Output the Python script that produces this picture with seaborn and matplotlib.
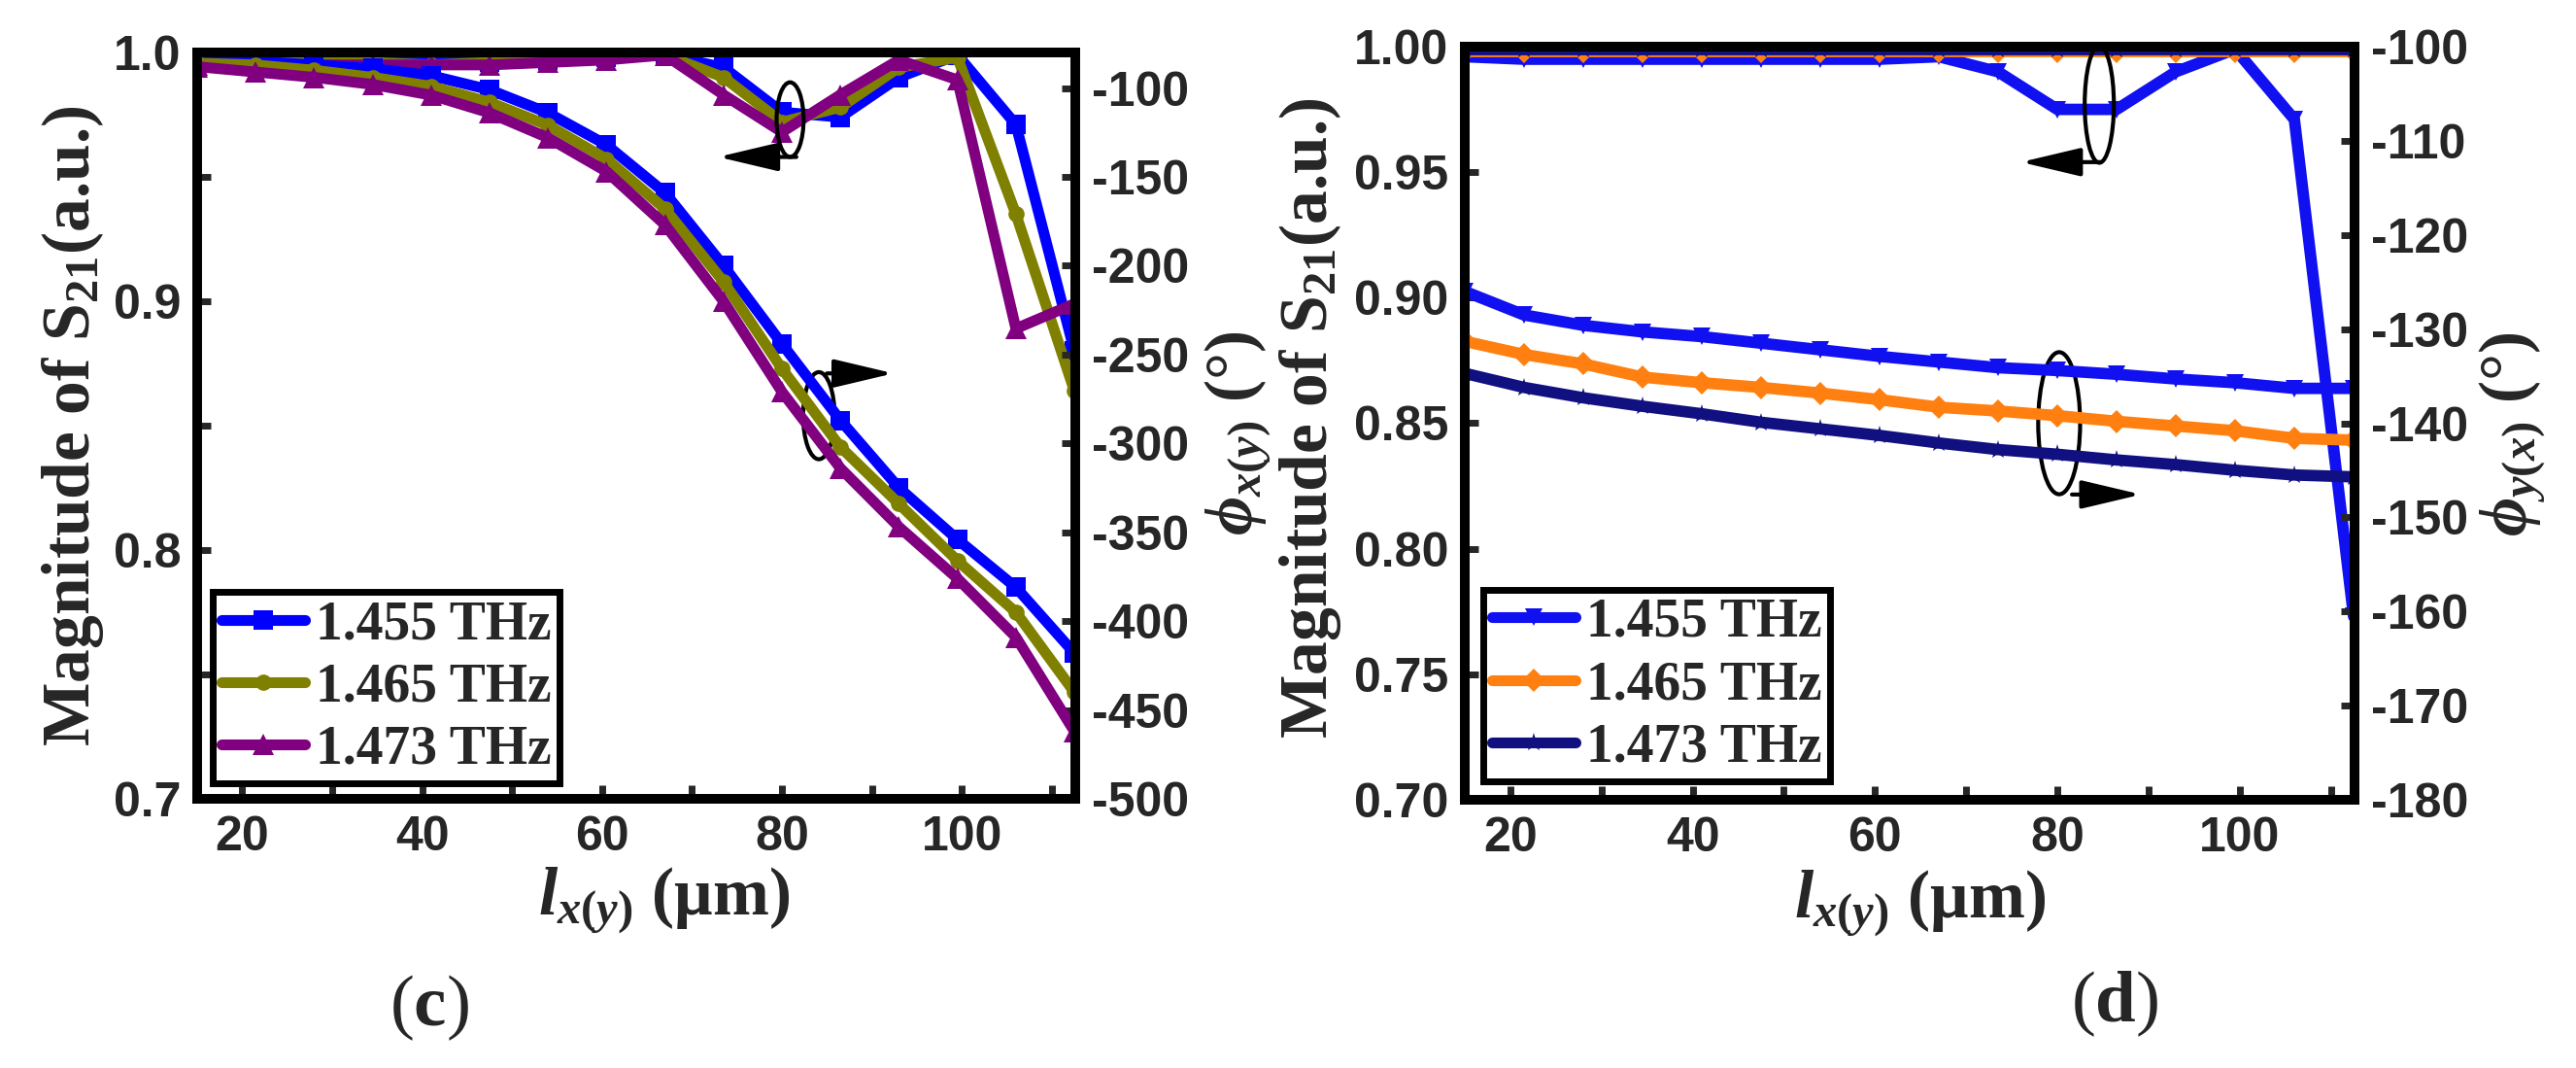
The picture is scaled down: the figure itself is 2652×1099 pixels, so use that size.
import matplotlib
matplotlib.use("Agg")
import matplotlib.pyplot as plt
import seaborn as sns
import pandas as pd
from matplotlib.patches import Ellipse
from matplotlib.lines import Line2D
from matplotlib.ticker import MultipleLocator

# -----------------------------
# DATA
# -----------------------------
l_um = [15, 21.5, 28, 34.5, 41, 47.5, 54, 60.5, 67, 73.5, 80, 86.5, 93, 99.5, 106, 112.5]
freqs = ["1.455 THz", "1.465 THz", "1.473 THz"]

# panel (c): magnitude (left axis) and phase phi_x(y) (right axis)
mag_c_1455 = [0.997, 0.997, 0.996, 0.996, 0.996, 0.996, 0.997, 0.998, 0.999, 0.994, 0.976, 0.974, 0.990, 0.999, 0.971, 0.880]
mag_c_1465 = [0.998, 0.996, 0.997, 0.996, 0.995, 0.996, 0.997, 0.998, 0.999, 0.990, 0.972, 0.978, 0.994, 0.998, 0.935, 0.864]
mag_c_1473 = [0.995, 0.995, 0.995, 0.995, 0.995, 0.995, 0.996, 0.997, 0.999, 0.983, 0.968, 0.983, 0.997, 0.989, 0.889, 0.899]
phase_c_1455 = [-84, -85, -87, -89, -93, -101, -114, -132, -159, -200, -244, -287, -325, -354, -381, -418]
phase_c_1465 = [-86, -87, -90, -94, -99, -108, -121, -140, -168, -209, -258, -302, -334, -366, -395, -440]
phase_c_1473 = [-88, -91, -94, -98, -104, -114, -128, -147, -177, -220, -271, -314, -347, -376, -409, -462]

# panel (d): magnitude (left axis) and phase phi_y(x) (right axis)
mag_d_1455 = [0.996, 0.995, 0.995, 0.995, 0.995, 0.995, 0.995, 0.995, 0.996, 0.990, 0.975, 0.975, 0.990, 0.999, 0.971, 0.773]
mag_d_1465 = [0.998, 0.998, 0.998, 0.998, 0.998, 0.998, 0.998, 0.998, 0.998, 0.998, 0.998, 0.998, 0.998, 0.998, 0.998, 0.998]
mag_d_1473 = [0.999, 0.999, 0.999, 0.999, 0.999, 0.999, 0.999, 0.999, 0.999, 0.999, 0.999, 0.999, 0.999, 0.999, 0.999, 0.999]
phase_d_1455 = [-126.0, -128.5, -129.6, -130.3, -130.8, -131.5, -132.2, -132.9, -133.5, -134.1, -134.4, -134.8, -135.3, -135.7, -136.3, -136.3]
phase_d_1465 = [-131.3, -132.7, -133.7, -135.1, -135.7, -136.2, -136.8, -137.5, -138.3, -138.7, -139.2, -139.8, -140.3, -140.8, -141.6, -141.8]
phase_d_1473 = [-134.7, -136.2, -137.3, -138.2, -139.0, -139.9, -140.6, -141.3, -142.1, -142.8, -143.3, -143.9, -144.4, -145.0, -145.5, -145.7]

# -----------------------------
# STYLE
# -----------------------------
sns.set_style("ticks")
plt.rcParams["font.family"] = ["Liberation Sans", "DejaVu Sans"]
plt.rcParams["font.weight"] = "bold"
plt.rcParams["axes.unicode_minus"] = False
plt.rcParams["mathtext.fontset"] = "custom"
plt.rcParams["mathtext.rm"] = "Liberation Serif"
plt.rcParams["mathtext.it"] = "Liberation Serif:italic:bold"
plt.rcParams["mathtext.bf"] = "Liberation Serif:bold"

SERIF = ["Liberation Serif", "DejaVu Serif"]
TICK_FS = 36
LABEL_FS = 50
SPINE_LW = 7

style_c = {
    "1.455 THz": dict(color="#0000FF", marker="s", ms=15),
    "1.465 THz": dict(color="#808000", marker="o", ms=12),
    "1.473 THz": dict(color="#800080", marker="^", ms=16),
}
style_d = {
    "1.455 THz": dict(color="#1010F0", marker="v", ms=13),
    "1.465 THz": dict(color="#FF8010", marker="D", ms=12),
    "1.473 THz": dict(color="#101080", marker="*", ms=14),
}


def long_df(series):
    rows = []
    for f, vals in zip(freqs, series):
        for x, v in zip(l_um, vals):
            rows.append((f, x, v))
    return pd.DataFrame(rows, columns=["freq", "l", "val"])


def draw_lines(ax, df, styles, lw):
    for f in freqs:
        st = styles[f]
        sub = df[df["freq"] == f]
        sns.lineplot(data=sub, x="l", y="val", ax=ax, color=st["color"],
                     marker=st["marker"], markersize=st["ms"], markeredgewidth=0,
                     linewidth=lw, legend=False)


def style_axes(ax, ax2):
    for a in (ax, ax2):
        for s in a.spines.values():
            s.set_linewidth(SPINE_LW)
            s.set_color("black")
    ax.tick_params(which="both", direction="in", width=5, length=10,
                   labelsize=TICK_FS, pad=12, top=False, right=False)
    ax2.tick_params(which="both", direction="in", width=5, length=10,
                    labelsize=TICK_FS, pad=12)
    ax.xaxis.set_major_locator(MultipleLocator(20))
    ax.xaxis.set_minor_locator(MultipleLocator(10))
    ax.set_xlim(15, 112.6)
    ax.set_xlabel(r"$l_{x(y)}$ (μm)", fontsize=LABEL_FS, family=SERIF, weight="bold")
    ax.set_ylabel(r"Magnitude of S$_{21}$(a.u.)", fontsize=LABEL_FS, family=SERIF, weight="bold")


def legend(ax, styles, anchor):
    handles = [Line2D([], [], color=styles[f]["color"], marker=styles[f]["marker"],
                      ms=styles[f]["ms"], mew=0, lw=8) for f in freqs]
    leg = ax.legend(handles, freqs, loc="lower left", bbox_to_anchor=anchor,
                    borderaxespad=0, prop=dict(family=SERIF, weight="bold", size=40),
                    handlelength=1.55, handletextpad=0.2, labelspacing=0.22,
                    borderpad=0.15, frameon=True, fancybox=False, framealpha=1)
    leg.get_frame().set_edgecolor("black")
    leg.get_frame().set_linewidth(5)


def ring(ax, center, w, h, start, tip):
    ax.add_patch(Ellipse(center, w, h, fill=False, ec="black", lw=3, zorder=6))
    ax.annotate("", xy=tip, xytext=start,
                arrowprops=dict(arrowstyle="-|>,head_length=1.9,head_width=0.45",
                                mutation_scale=20, lw=3, color="black",
                                shrinkA=0, shrinkB=0), zorder=6)


W, H = 2652, 1099
fig = plt.figure(figsize=(W / 100, H / 100), dpi=100)

# -----------------------------
# PANEL (c)
# -----------------------------
ax_c = fig.add_axes([203 / W, 1 - 822 / H, 904 / W, 768 / H])
ax_c2 = ax_c.twinx()
draw_lines(ax_c, long_df([mag_c_1455, mag_c_1465, mag_c_1473]), style_c, 8)
draw_lines(ax_c2, long_df([phase_c_1455, phase_c_1465, phase_c_1473]), style_c, 8)
style_axes(ax_c, ax_c2)
ax_c.set_ylim(0.7, 1.0)
ax_c.yaxis.set_major_locator(MultipleLocator(0.1))
ax_c.yaxis.set_minor_locator(MultipleLocator(0.05))
ax_c2.set_ylim(-500, -80)
ax_c2.yaxis.set_major_locator(MultipleLocator(50))
ax_c2.set_ylabel(r"$\phi_{x(y)}$ (°)", fontsize=LABEL_FS, family=SERIF, weight="bold")
ax_c.yaxis.set_label_coords(-0.104, 0.5)
ax_c2.yaxis.set_label_coords(1.145, 0.49)
ax_c.xaxis.set_label_coords(0.532, -0.089)
legend(ax_c, style_c, (0.018, 0.021))
ring(ax_c, (80.9, 0.973), 3.0, 0.030, (81.6, 0.958), (72.9, 0.958))
ring(ax_c, (84.1, 0.854), 3.5, 0.035, (85.0, 0.871), (92.4, 0.871))

# -----------------------------
# PANEL (d)
# -----------------------------
ax_d = fig.add_axes([1508 / W, 1 - 823 / H, 916 / W, 775 / H])
ax_d2 = ax_d.twinx()
draw_lines(ax_d, long_df([mag_d_1455, mag_d_1465, mag_d_1473]), style_d, 8.5)
draw_lines(ax_d2, long_df([phase_d_1455, phase_d_1465, phase_d_1473]), style_d, 8.5)
style_axes(ax_d, ax_d2)
ax_d.set_ylim(0.70, 1.00)
ax_d.yaxis.set_major_locator(MultipleLocator(0.05))
ax_d2.set_ylim(-180, -100)
ax_d2.yaxis.set_major_locator(MultipleLocator(10))
ax_d2.set_ylabel(r"$\phi_{y(x)}$ (°)", fontsize=LABEL_FS, family=SERIF, weight="bold")
ax_d.yaxis.set_label_coords(-0.136, 0.507)
ax_d2.yaxis.set_label_coords(1.138, 0.486)
ax_d.xaxis.set_label_coords(0.511, -0.090)
legend(ax_d, style_d, (0.021, 0.025))
ring(ax_d, (84.6, 0.977), 3.2, 0.0465, (84.8, 0.954), (76.0, 0.954))
ring(ax_d, (80.2, 0.850), 4.6, 0.0566, (81.6, 0.8216), (89.2, 0.8216))

# panel letters
fig.text(442 / W, 1 - 1037 / H, r"($\mathbf{c}$)", fontsize=54, family=SERIF,
         weight="normal", ha="center", va="center")
fig.text(2177 / W, 1 - 1033 / H, r"($\mathbf{d}$)", fontsize=54, family=SERIF,
         weight="normal", ha="center", va="center")

fig.savefig("out.png", dpi=100, facecolor="white")
